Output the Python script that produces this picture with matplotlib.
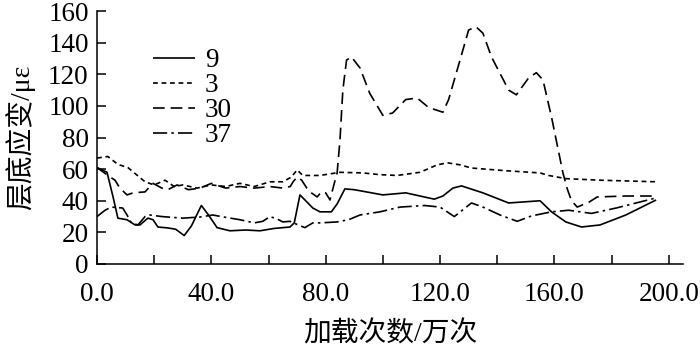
import matplotlib
matplotlib.use('Agg')
import matplotlib.pyplot as plt

# 数据
x_9 = [0, 3.5, 5.6, 7.3, 10.5, 13.3, 15, 17.8, 19.6, 21.3, 24.8, 27.5, 30.5, 33, 36.5, 39, 42,
       46.5, 52, 57, 62, 67.5, 69, 71, 75.5, 78, 82, 84, 86.7, 90, 100, 108, 118, 121,
       124.5, 127.5, 135, 144, 155, 159, 164, 169.5, 176, 185, 195.6]
y_9 = [61, 58, 42.5, 29, 28, 24.7, 24.7, 29, 28, 23.4, 22.8, 22, 18, 24, 37, 31, 23,
       21, 21.5, 21, 22.5, 23.4, 26, 43.7, 35.4, 33, 33, 38, 47.5, 47, 43.7, 45, 41, 43,
       48, 49.4, 45, 38.6, 40, 33, 26.6, 23.4, 24.7, 31, 40.5]

x_3 = [0, 3.8, 7.3, 10.8, 16.8, 20, 23.8, 27, 30, 35, 40, 45, 50, 55, 60.5, 65, 68, 70, 72,
       78, 85, 93, 99, 105, 113, 119, 122.6, 127, 131, 143, 155, 158, 164, 176, 195.6]
y_3 = [67, 68, 63, 61, 52, 50, 53, 49, 50, 48, 50, 49, 51, 49, 52, 52, 55, 59.5, 56,
       56, 58, 57.6, 56.5, 56, 58, 62.7, 64, 62.7, 60.7, 59, 57.6, 56, 54, 53, 52]

x_30 = [0, 3.8, 6.3, 8, 10.5, 12.6, 16.8, 18.5, 19.6, 22.7, 24.8, 28, 32, 36, 40, 45, 50, 55,
        60.5, 65, 67.6, 68.6, 70, 71.6, 73.4, 75, 77, 78.5, 80, 81.5, 83, 84, 85, 86, 87.3,
        89, 92, 95.4, 100, 103.4, 108, 112, 116, 121, 123, 127, 130, 132.6, 135, 138, 144,
        146.7, 151, 153.7, 156, 159, 163, 164.6, 166, 168, 172, 175, 185, 195]
y_30 = [61, 56, 53, 48, 43.7, 45, 45.6, 49, 51, 48, 47, 50, 47, 48, 51, 48, 49, 48,
        49, 48, 49, 52, 55, 53, 48, 45, 42.4, 45.6, 45, 40.5, 51, 57.6, 78.5, 110, 129,
        131, 124, 108, 94, 95.5, 104, 105, 99, 96, 104, 129, 148, 150, 146, 131, 110,
        107, 117.7, 121, 116.5, 93, 57.6, 47, 40, 36, 39, 42.4, 43, 43]

x_37 = [0, 2.8, 5, 9, 10.5, 12, 14.3, 16.8, 18.5, 22.7, 30, 36, 40.5, 45, 50, 55, 58, 60.5,
        63, 65, 67.5, 70, 72.7, 75.5, 78, 84, 88, 92, 99, 106, 114.6, 120, 125, 131, 135,
        141, 147, 152, 159, 165, 173, 181.6, 188.6, 195.6]
y_37 = [30, 34, 36, 35.4, 31, 26, 24.7, 30, 31, 30, 29, 29.7, 31, 29.5, 28, 26, 27, 30,
        28.5, 26.6, 27, 25, 23, 26, 26, 26.6, 28, 31, 33, 36, 37, 36, 30, 38.6, 36,
        31, 27, 30.4, 33, 34, 32, 35.4, 38.6, 41.8]

series = [
    ('9', x_9, y_9, (0, ())),
    ('3', x_3, y_3, (0, (2.9, 2.2))),
    ('30', x_30, y_30, (0, (7, 3.6))),
    ('37', x_37, y_37, (0, (8.5, 2.5, 1.5, 2.5))),
]

serif = ['Liberation Serif', 'Noto Sans CJK SC']
plt.rcParams['font.family'] = serif

fig = plt.figure(figsize=(7, 3.47), dpi=100)
ax = fig.add_axes([0.1386, 0.2392, 0.8371, 0.729])

for name, xs, ys, ls in series:
    ax.plot(xs, ys, color='black', lw=1.2, linestyle=ls, label=name)

ax.set_xlim(0, 205)
ax.set_ylim(0, 160)
ax.set_xticks(range(0, 201, 20))
ax.set_xticklabels(['%.1f' % v if v % 40 == 0 else '' for v in range(0, 201, 20)])
ax.set_yticks(range(0, 161, 20))

for s in ['top', 'right']:
    ax.spines[s].set_visible(False)
for s in ['left', 'bottom']:
    ax.spines[s].set_linewidth(1.1)

ax.tick_params(axis='both', direction='in', length=6.5, width=1.1, labelsize=19.5)
ax.tick_params(axis='x', pad=13)
ax.tick_params(axis='y', pad=6)

ax.set_xlabel('加载次数/万次', fontsize=20, labelpad=10)
ax.set_ylabel('层底应变/με', fontsize=20, labelpad=9)

leg = ax.legend(loc='upper left', bbox_to_anchor=(153 / 700, 1 - 48 / 347),
                bbox_transform=fig.transFigure, frameon=False, fontsize=19.5,
                handlelength=1.55, handletextpad=0.37, labelspacing=0.0,
                borderpad=0, borderaxespad=0)

fig.savefig('out.png', dpi=100)
